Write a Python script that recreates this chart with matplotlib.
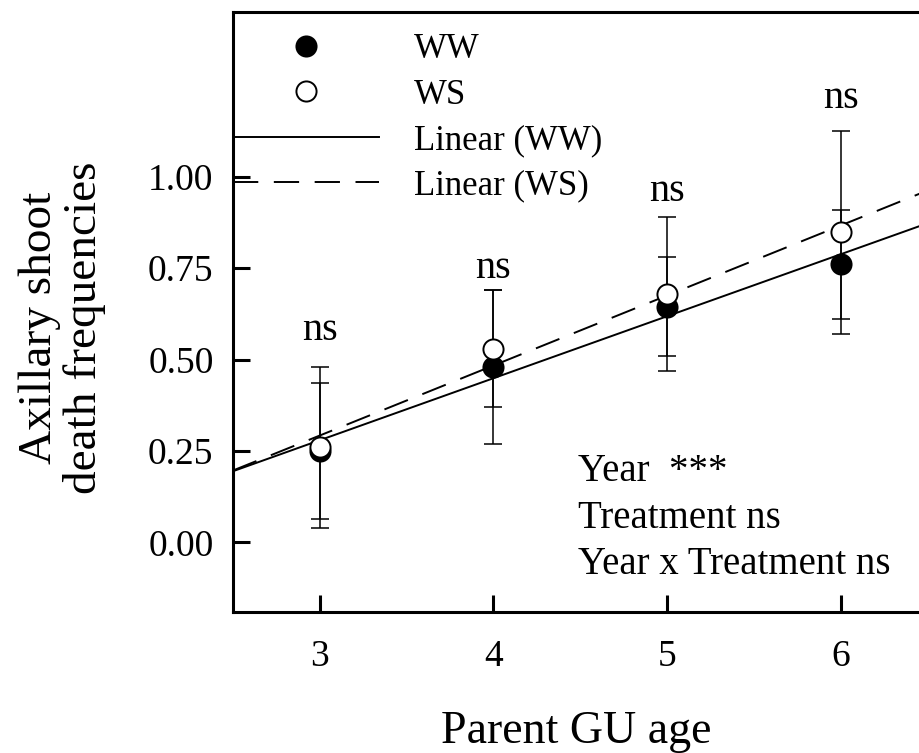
import numpy as np
import matplotlib
matplotlib.use("Agg")
import matplotlib.pyplot as plt

# ---------------------------------------------------------------------------
# Data
# ---------------------------------------------------------------------------
gu_age = [3, 4, 5, 6]
ww_mean = [0.25, 0.48, 0.645, 0.76]
ww_err = [0.185, 0.21, 0.135, 0.15]
ws_mean = [0.26, 0.53, 0.68, 0.848]
ws_err = [0.22, 0.16, 0.21, 0.277]
ns_y = [0.58, 0.75, 0.96, 1.215]
stats_lines = ["Year  ***", "Treatment ns", "Year x Treatment ns"]
yticks = [0.0, 0.25, 0.50, 0.75, 1.00]

plt.rcParams.update({
    "font.family": ["Liberation Serif", "DejaVu Serif"],
})

fig = plt.figure(figsize=(9.19, 7.53), dpi=100)
ax = fig.add_axes([0.2535, 0.1873, 0.7465, 0.7967])

# linear fits from the plotted means
x_fit = np.array([2.5, 7.0])
ww_fit = np.polyval(np.polyfit(gu_age, ww_mean, 1), x_fit)
ws_fit = np.polyval(np.polyfit(gu_age, ws_mean, 1), x_fit)

ax.errorbar(gu_age, ww_mean, yerr=ww_err, fmt="none", ecolor="black",
            elinewidth=1.1, capsize=6.5, capthick=1.1, zorder=2)
ax.errorbar(gu_age, ws_mean, yerr=ws_err, fmt="none", ecolor="black",
            elinewidth=1.1, capsize=6.5, capthick=1.1, zorder=2)

l_ww, = ax.plot(x_fit, ww_fit, color="black", lw=1.4, zorder=3,
                label="Linear (WW)")
l_ws, = ax.plot(x_fit, ws_fit, color="black", lw=1.4, zorder=3,
                linestyle=(0, (13, 8)), label="Linear (WS)")

p_ww, = ax.plot(gu_age, ww_mean, "o", ms=14.5, mfc="black", mec="black",
                mew=1.4, linestyle="none", zorder=4, label="WW")
p_ws, = ax.plot(gu_age, ws_mean, "o", ms=14.5, mfc="white", mec="black",
                mew=1.4, linestyle="none", zorder=5, label="WS")

for x, y in zip(gu_age, ns_y):
    ax.text(x, y, "ns", ha="center", va="center", fontsize=29)

for i, line in enumerate(stats_lines):
    ax.text(4.485, 0.193 - i * 0.1265, line, ha="left", va="center",
            fontsize=28)

ax.legend(handles=[p_ww, p_ws, l_ww, l_ws], loc="upper left",
          bbox_to_anchor=(0.0, 0.965), frameon=False, fontsize=25,
          handlelength=4.2, handletextpad=1.0, labelspacing=0.36,
          borderpad=0, borderaxespad=0, numpoints=1)

ax.set_xlim(2.5, 6.45)
ax.set_ylim(-0.19, 1.45)
ax.set_xticks(gu_age)
ax.set_yticks(yticks)
ax.set_yticklabels([f"{v:.2f}" for v in yticks])
ax.tick_params(direction="in", length=12, width=2.2, labelsize=27, pad=14)
ax.tick_params(axis="x", pad=20)

for side in ("left", "bottom", "top"):
    ax.spines[side].set_linewidth(2.2)
ax.spines["right"].set_visible(False)

ax.set_xlabel("Parent GU age", fontsize=33, labelpad=26)
ax.set_ylabel("Axillary shoot\ndeath frequencies", fontsize=34,
              linespacing=1.05)
ax.yaxis.set_label_coords(-0.185, 0.473)

fig.savefig("out.png", dpi=100)
